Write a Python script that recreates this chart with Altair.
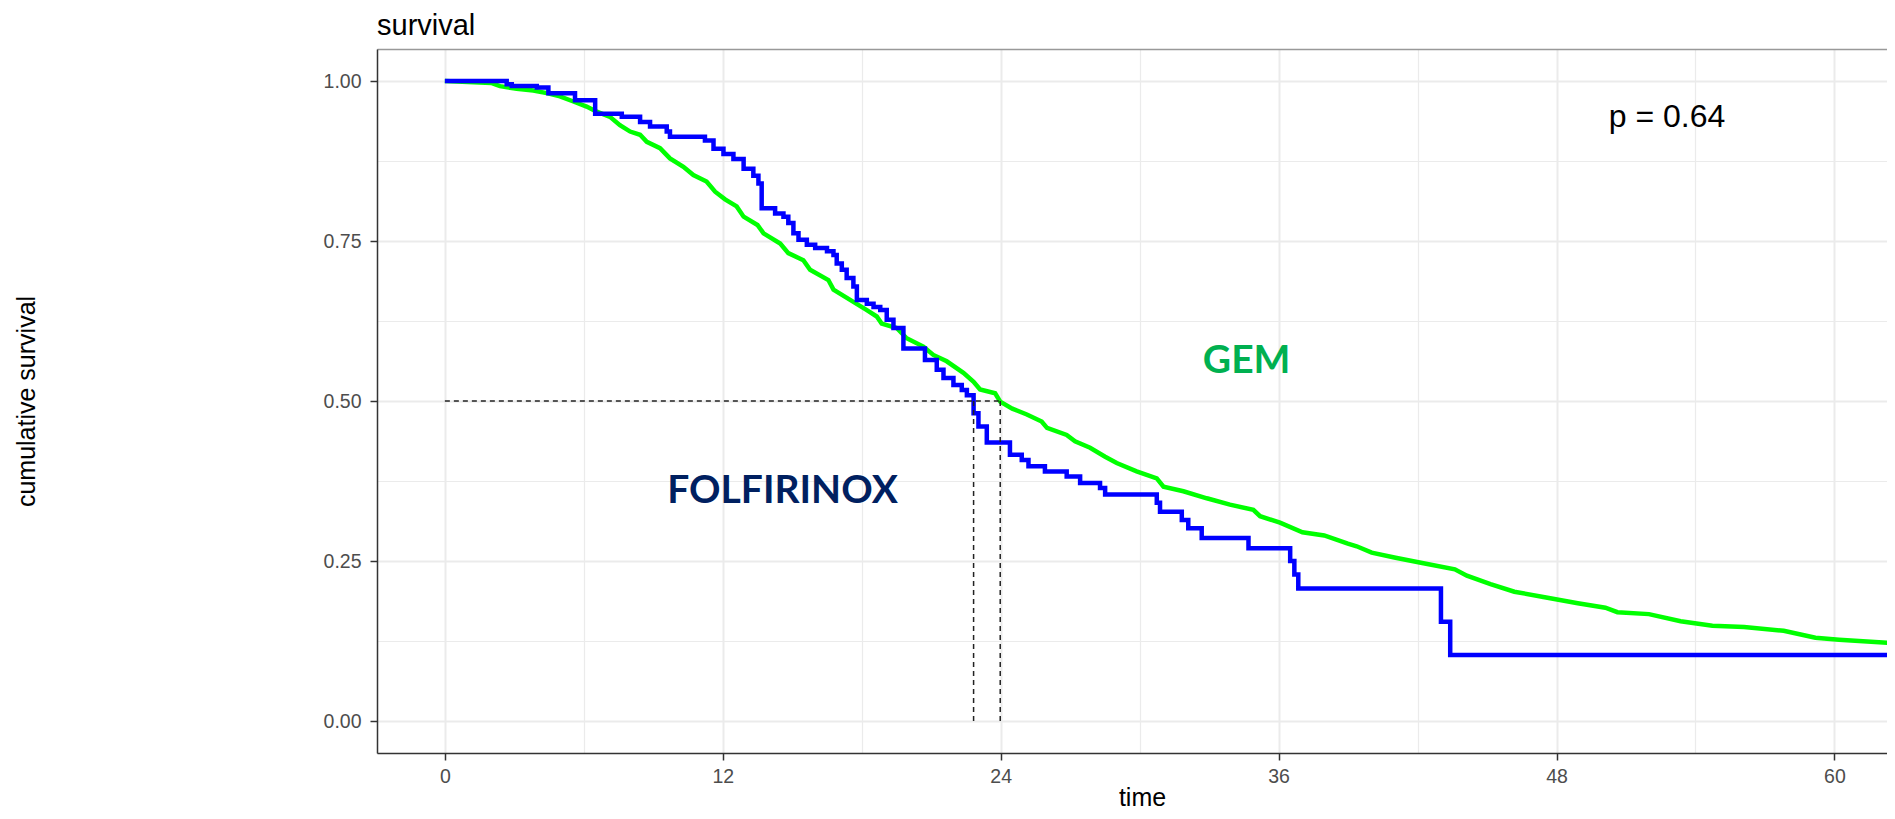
import altair as alt
import pandas as pd

# ---------------- data ----------------
folf_time = [0, 2.67, 2.89, 3.97, 4.47, 5.62, 6.49, 7.64, 8.43, 8.86, 9.58, 9.72,
             11.23, 11.6, 12.03, 12.46, 12.9, 13.32, 13.54, 13.68, 14.26, 14.62,
             14.83, 15.05, 15.27, 15.63, 15.99, 16.5, 16.78, 16.92, 17.14, 17.35,
             17.64, 17.79, 18.22, 18.51, 18.8, 19.08, 19.37, 19.8, 20.73, 21.24,
             21.53, 21.96, 22.32, 22.54, 22.83, 23.04, 23.4, 24.4, 24.91, 25.2,
             25.91, 26.85, 27.43, 28.29, 28.51, 30.74, 30.88, 31.82, 32.1, 32.68,
             34.7, 36.5, 36.68, 36.85, 43.01, 43.41, 63.5]
folf_surv = [1.0, 0.995, 0.992, 0.990, 0.981, 0.970, 0.949, 0.944, 0.936, 0.929, 0.921, 0.913,
             0.907, 0.894, 0.886, 0.878, 0.863, 0.852, 0.840, 0.801, 0.793, 0.788,
             0.778, 0.762, 0.752, 0.744, 0.739, 0.734, 0.728, 0.715, 0.705, 0.692,
             0.679, 0.658, 0.652, 0.647, 0.642, 0.627, 0.614, 0.582, 0.564, 0.549,
             0.536, 0.525, 0.517, 0.509, 0.481, 0.460, 0.435, 0.416, 0.408, 0.398,
             0.390, 0.382, 0.372, 0.364, 0.354, 0.341, 0.327, 0.314, 0.301, 0.286,
             0.270, 0.250, 0.229, 0.207, 0.155, 0.103, 0.103]

gem_time = [0, 2.0, 2.38, 3.1, 3.82, 4.4, 4.97, 5.55, 6.12, 6.56, 7.13, 7.56, 8.0, 8.43,
            8.72, 9.29, 9.72, 10.3, 10.73, 11.3, 11.67, 12.1, 12.6, 12.9, 13.5, 13.76,
            14.48, 14.83, 15.48, 15.77, 16.56, 16.78, 17.64, 18.22, 18.65, 18.86, 19.51,
            19.94, 20.66, 21.09, 21.67, 22.39, 22.83, 23.11, 23.76, 23.98, 24.5, 25.13,
            25.77, 26.0, 26.85, 27.21, 27.86, 28.51, 29.01, 29.87, 30.74, 31.03, 31.89,
            32.9, 33.9, 34.91, 35.2, 36.06, 37.03, 37.97, 38.99, 39.37, 40.02, 41.05,
            42.2, 43.61, 44.13, 45.15, 46.18, 47.55, 48.92, 50.11, 50.63, 51.99, 53.36,
            54.73, 56.1, 57.81, 59.18, 60.2, 62.4, 63.5]
gem_surv = [1.0, 0.997, 0.992, 0.988, 0.985, 0.981, 0.976, 0.968, 0.960, 0.952, 0.944, 0.931,
            0.921, 0.916, 0.905, 0.895, 0.879, 0.866, 0.853, 0.843, 0.827, 0.815, 0.804,
            0.788, 0.775, 0.762, 0.746, 0.731, 0.720, 0.705, 0.689, 0.674, 0.655, 0.642,
            0.632, 0.621, 0.614, 0.598, 0.585, 0.572, 0.562, 0.544, 0.530, 0.518, 0.512,
            0.499, 0.488, 0.479, 0.468, 0.458, 0.447, 0.437, 0.427, 0.413, 0.403, 0.390,
            0.379, 0.366, 0.359, 0.348, 0.338, 0.330, 0.320, 0.310, 0.295, 0.290, 0.277,
            0.273, 0.263, 0.255, 0.247, 0.237, 0.227, 0.214, 0.202, 0.193, 0.184, 0.177,
            0.170, 0.167, 0.156, 0.149, 0.147, 0.141, 0.130, 0.127, 0.122, 0.120]

median_times = [22.83, 23.98]
median_level = 0.5
x_ticks = [0, 6, 12, 18, 24, 30, 36, 42, 48, 54, 60]
y_ticks = [0, 0.125, 0.25, 0.375, 0.5, 0.625, 0.75, 0.875, 1.0]
p_label = "p = 0.64"
group_labels = ["FOLFIRINOX", "GEM"]

# ---------------- tables ----------------
folf_df = pd.DataFrame({"x": folf_time, "y": folf_surv})
gem_df = pd.DataFrame({"x": gem_time, "y": gem_surv})
hline_df = pd.DataFrame({"x": [0], "x2": [max(median_times)], "y": [median_level]})
vline_df = pd.DataFrame({"x": median_times, "y": [0] * len(median_times),
                         "y2": [median_level] * len(median_times)})
p_df = pd.DataFrame({"x": [52.77], "y": [0.9285], "t": [p_label]})
folf_lab = pd.DataFrame({"x": [14.58], "y": [0.3406], "t": [group_labels[0]]})
gem_lab = pd.DataFrame({"x": [34.62], "y": [0.5445], "t": [group_labels[1]]})

W, H = 1510, 704
xs = alt.Scale(domain=[-2.93, 62.27], nice=False, zero=False)
ys = alt.Scale(domain=[-0.05, 1.05], nice=False, zero=False)

FONT = "Liberation Sans"
major_x = "datum.value % 12 === 0"
major_y = "(datum.value * 4) % 1 === 0"

x_axis = alt.Axis(
    values=x_ticks, title="time",
    labelExpr=f"{major_x} ? datum.label : ''",
    labelOverlap=False, labelFlush=False,
    grid=True, gridColor="#EBEBEB",
    gridWidth={"condition": {"test": major_x, "value": 2}, "value": 1.2},
    ticks=True, tickSize=7, tickColor="#333333", tickWidth=1.5,
    tickOpacity={"condition": {"test": major_x, "value": 1}, "value": 0},
    domain=True, domainColor="#333333", domainWidth=1.5,
    labelFont=FONT, labelFontSize=19.5, labelColor="#4D4D4D",
    labelBaseline="alphabetic", labelPadding=22.5,
    titleFont=FONT, titleFontSize=25, titleFontWeight="normal", titleColor="black",
    titleX=765, titleY=52, titleBaseline="alphabetic", titleAlign="center",
)
x_top = alt.Axis(orient="top", values=x_ticks, labels=False, ticks=False, grid=False,
                 title=None, domain=True, domainColor="#999999", domainWidth=1.5)
y_axis = alt.Axis(
    values=y_ticks, title="cumulative survival", format=".2f",
    labelExpr=f"{major_y} ? datum.label : ''",
    labelOverlap=False, labelFlush=False,
    grid=True, gridColor="#EBEBEB",
    gridWidth={"condition": {"test": major_y, "value": 2}, "value": 1.2},
    ticks=True, tickSize=7, tickColor="#333333", tickWidth=1.5,
    tickOpacity={"condition": {"test": major_y, "value": 1}, "value": 0},
    domain=True, domainColor="#333333", domainWidth=1.5,
    labelFont=FONT, labelFontSize=19.5, labelColor="#4D4D4D", labelPadding=9,
    titleFont=FONT, titleFontSize=25, titleFontWeight="normal", titleColor="black",
    titleX=-342.5, titleY=352, titleAngle=270, titleAlign="center",
    titleBaseline="alphabetic",
)

def Y(field="y"):
    return alt.Y(f"{field}:Q", scale=ys, axis=y_axis)

gem_line = alt.Chart(gem_df).mark_line(color="#00FF00", strokeWidth=4.5, clip=True).encode(
    x=alt.X("x:Q", scale=xs, axis=x_axis), y=Y())
folf_line = alt.Chart(folf_df).mark_line(color="#0000FF", strokeWidth=4.5, clip=True,
                                         interpolate="step-after").encode(
    x=alt.X("x:Q", scale=xs, axis=x_top), y=Y())
hline = alt.Chart(hline_df).mark_rule(color="#222222", strokeWidth=1.5, strokeDash=[5, 4]).encode(
    x=alt.X("x:Q", scale=xs, axis=None), x2="x2:Q", y=Y())
vline = alt.Chart(vline_df).mark_rule(color="#222222", strokeWidth=1.5, strokeDash=[5, 4]).encode(
    x=alt.X("x:Q", scale=xs, axis=None), y=Y(), y2="y2:Q")
p_txt = alt.Chart(p_df).mark_text(font=FONT, fontSize=32, color="black", align="center",
                                  baseline="alphabetic").encode(
    x=alt.X("x:Q", scale=xs, axis=None), y=Y(), text="t:N")
folf_txt = alt.Chart(folf_lab).mark_text(font="Lato", fontSize=39, fontWeight="bold",
                                         color="#002060", align="center",
                                         baseline="alphabetic").encode(
    x=alt.X("x:Q", scale=xs, axis=None), y=Y(), text="t:N")
gem_txt = alt.Chart(gem_lab).mark_text(font="Lato", fontSize=39, fontWeight="bold",
                                       color="#00B050", align="center",
                                       baseline="alphabetic").encode(
    x=alt.X("x:Q", scale=xs, axis=None), y=Y(), text="t:N")

chart = alt.layer(gem_line, folf_line, hline, vline, p_txt, folf_txt, gem_txt).resolve_axis(
    x="independent"
).properties(
    width=W, height=H,
    title=alt.Title("survival", anchor="start", frame="group", font=FONT, fontSize=29,
                    fontWeight="normal", color="black", offset=8),
    autosize=alt.AutoSizeParams(type="none"),
    padding={"left": 369, "top": 41, "right": 0, "bottom": 58},
).configure_view(stroke=None).configure(background="white")

chart.save("out.html", embed_options={"renderer": "svg", "actions": False})
